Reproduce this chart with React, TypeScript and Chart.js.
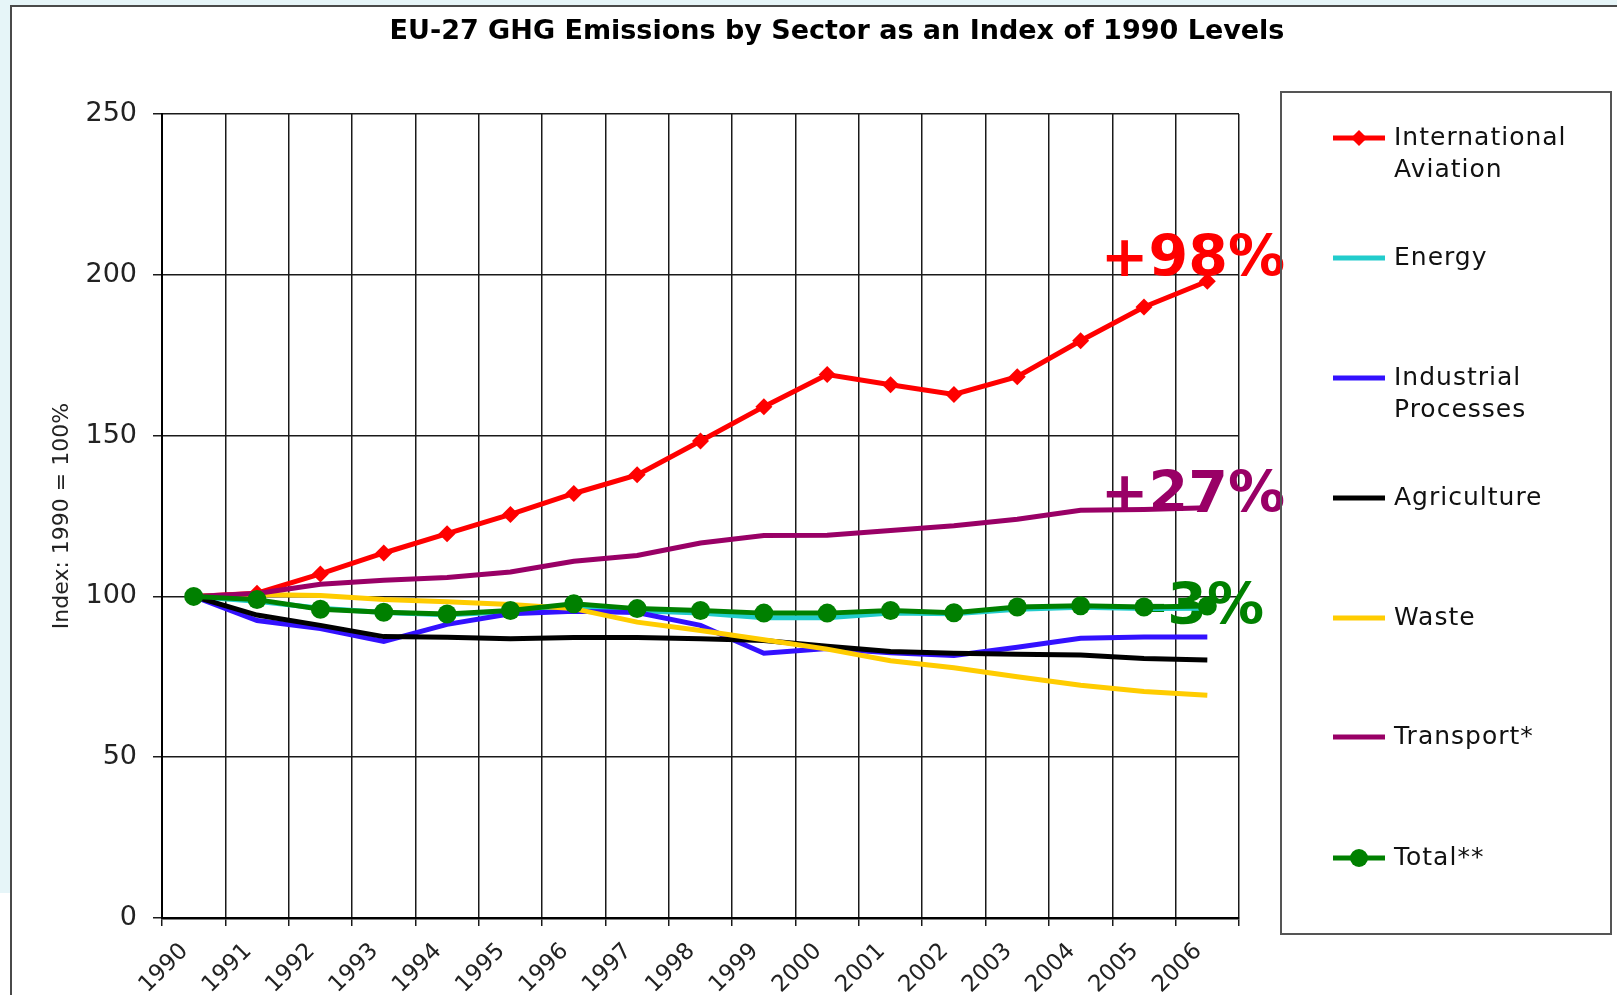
import React, { useEffect, useRef } from "react";
import { Chart, registerables } from "chart.js";
Chart.register(...registerables);

const years = ["1990","1991","1992","1993","1994","1995","1996","1997","1998","1999","2000","2001","2002","2003","2004","2005","2006"];
const aviation = [100, 101, 107, 113.5, 119.5, 125.5, 132, 137.8, 148.3, 159, 169, 165.8, 162.8, 168.3, 179.5, 190, 198];
const energy = [100, 98.5, 96.3, 95, 94.3, 95.2, 96.5, 95.5, 94.8, 93.4, 93.4, 94.8, 94.6, 96, 96.6, 96.2, 96.3];
const industrial = [100, 92.5, 90, 86, 91.3, 94.6, 95.4, 95, 91, 82.3, 83.8, 82.5, 81.6, 84.2, 87, 87.4, 87.4];
const agriculture = [100, 94.2, 91, 87.5, 87.3, 86.8, 87.2, 87.2, 86.8, 86.3, 84.5, 82.9, 82.3, 82, 81.8, 80.7, 80.2];
const waste = [100, 100.6, 100.3, 99, 98.3, 97.5, 96.2, 92, 89.4, 86.5, 83.6, 80, 77.8, 75, 72.4, 70.4, 69.3];
const transport = [100, 100.9, 103.8, 105, 105.9, 107.6, 110.9, 112.7, 116.6, 118.9, 119, 120.5, 122, 124, 126.8, 127, 127.6];
const total = [100, 99, 96, 95.1, 94.5, 95.6, 97.7, 96.2, 95.6, 94.8, 94.8, 95.6, 94.9, 96.7, 97.1, 96.7, 97];

const seriesNames = [["International", "Aviation"], ["Energy"], ["Industrial", "Processes"], ["Agriculture"], ["Waste"], ["Transport*"], ["Total**"]];
const seriesColors = ["#ff0000", "#22cccc", "#3311ff", "#000000", "#ffcc00", "#990066", "#008000"];
const seriesMarkers = ["rectRot", "none", "none", "none", "none", "none", "circle"];
const seriesData = [aviation, energy, industrial, agriculture, waste, transport, total];

const yTicks = [0, 50, 100, 150, 200, 250];
const yTitle = "Index: 1990 = 100%";
const chartTitle = "EU-27 GHG Emissions by Sector as an Index of 1990 Levels";
const notes = [
  { text: "+98%", color: "#ff0000", series: 0 },
  { text: "+27%", color: "#990066", series: 5 },
  { text: "-3%", color: "#008000", series: 6 },
];

const FONT = "'DejaVu Sans', Verdana, sans-serif";

const decorPlugin = {
  id: "decor",
  beforeDraw(chart: any) {
    const ctx = chart.ctx;
    const W = chart.width, H = chart.height;
    ctx.save();
    ctx.fillStyle = "#ffffff";
    ctx.fillRect(0, 0, W, H);
    ctx.fillStyle = "#e6f5f8";
    ctx.fillRect(0, 0, W, 6);
    ctx.fillRect(0, 0, 11, 893);
    ctx.strokeStyle = "#4a4a4a";
    ctx.lineWidth = 2;
    ctx.beginPath();
    ctx.moveTo(11, H + 5);
    ctx.lineTo(11, 6);
    ctx.lineTo(W + 5, 6);
    ctx.stroke();
    // title
    ctx.fillStyle = "#000";
    ctx.font = `bold 27px ${FONT}`;
    ctx.textAlign = "center";
    ctx.textBaseline = "middle";
    ctx.fillText(chartTitle, 837, 32);
    // y title
    ctx.save();
    ctx.translate(62, 516);
    ctx.rotate(-Math.PI / 2);
    ctx.font = `22px ${FONT}`;
    ctx.fillStyle = "#222";
    ctx.fillText(yTitle, 0, 0);
    ctx.restore();
    ctx.restore();
  },
  beforeDatasetsDraw(chart: any) {
    const ctx = chart.ctx;
    const ys = chart.scales.y;
    const area = chart.chartArea;
    ctx.save();
    ctx.font = `bold 57px ${FONT}`;
    ctx.textAlign = "right";
    ctx.textBaseline = "middle";
    const offsets = [-20, -10, 3];
    notes.forEach((n, i) => {
      const d = seriesData[n.series];
      const y = ys.getPixelForValue(d[d.length - 1]) + offsets[i];
      ctx.fillStyle = n.color;
      ctx.fillText(n.text, i === 2 ? area.right + 25 : area.right + 46, y);
    });
    ctx.restore();
  },
  afterDraw(chart: any) {
    const ctx = chart.ctx;
    ctx.save();
    ctx.strokeStyle = "#555";
    ctx.lineWidth = 2;
    ctx.strokeRect(1281, 92, 330, 842);
    const itemY = [138, 258, 378, 498, 618, 737, 858];
    ctx.font = `25px ${FONT}`;
    (ctx as any).letterSpacing = "1px";
    ctx.textAlign = "left";
    ctx.textBaseline = "middle";
    seriesNames.forEach((lines, i) => {
      const y = itemY[i];
      ctx.strokeStyle = seriesColors[i];
      ctx.lineWidth = 5;
      ctx.beginPath();
      ctx.moveTo(1333, y);
      ctx.lineTo(1385, y);
      ctx.stroke();
      ctx.fillStyle = seriesColors[i];
      if (seriesMarkers[i] === "rectRot") {
        ctx.beginPath();
        ctx.moveTo(1359, y - 8);
        ctx.lineTo(1367, y);
        ctx.lineTo(1359, y + 8);
        ctx.lineTo(1351, y);
        ctx.closePath();
        ctx.fill();
      } else if (seriesMarkers[i] === "circle") {
        ctx.beginPath();
        ctx.arc(1359, y, 9, 0, Math.PI * 2);
        ctx.fill();
      }
      ctx.fillStyle = "#111";
      lines.forEach((t, k) => ctx.fillText(t, 1394, y + k * 32));
    });
    ctx.restore();
  },
};

export default function App() {
  const ref = useRef<HTMLCanvasElement>(null);
  useEffect(() => {
    document.body.style.margin = "0";
    const datasets = seriesData.map((d, i) => ({
      label: seriesNames[i].join(" "),
      data: d,
      borderColor: seriesColors[i],
      backgroundColor: seriesColors[i],
      borderWidth: 5,
      tension: 0,
      pointStyle: seriesMarkers[i] === "none" ? "circle" : seriesMarkers[i],
      pointRadius: seriesMarkers[i] === "none" ? 0 : seriesMarkers[i] === "circle" ? 9.5 : 8.5,
      pointBorderWidth: 0,
      order: 6 - i,
      clip: false as any,
    }));
    const chart = new Chart(ref.current!, {
      type: "line",
      data: { labels: years, datasets },
      options: {
        animation: false,
        responsive: false,
        maintainAspectRatio: false,
        layout: { padding: { left: 0, top: 114, right: 378, bottom: 0 } },
        plugins: { legend: { display: false }, title: { display: false }, tooltip: { enabled: false } },
        scales: {
          x: {
            offset: true,
            grid: { offset: true, color: "#1a1a1a", lineWidth: 1.5, tickLength: 8 },
            border: { color: "#000", width: 2.5 },
            ticks: {
              minRotation: 45,
              maxRotation: 45,
              autoSkip: false,
              padding: 12,
              labelOffset: -9,
              color: "#222",
              font: { family: FONT, size: 23 },
            },
            afterFit: (s: any) => { s.height = 77; },
          },
          y: {
            min: 0,
            max: 250,
            afterBuildTicks: (s: any) => { s.ticks = yTicks.map((v) => ({ value: v })); },
            grid: { color: "#1a1a1a", lineWidth: 1.5, tickLength: 9 },
            border: { color: "#000", width: 2 },
            ticks: { padding: 16, color: "#222", font: { family: FONT, size: 27 } },
            afterFit: (s: any) => { s.width = 162; },
          },
        },
      },
      plugins: [decorPlugin],
    });
    return () => chart.destroy();
  }, []);
  return (
    <div style={{ position: "relative", width: 1617, height: 995 }}>
      <canvas ref={ref} width={1617} height={995} style={{ display: "block", width: 1617, height: 995 }} />
    </div>
  );
}
